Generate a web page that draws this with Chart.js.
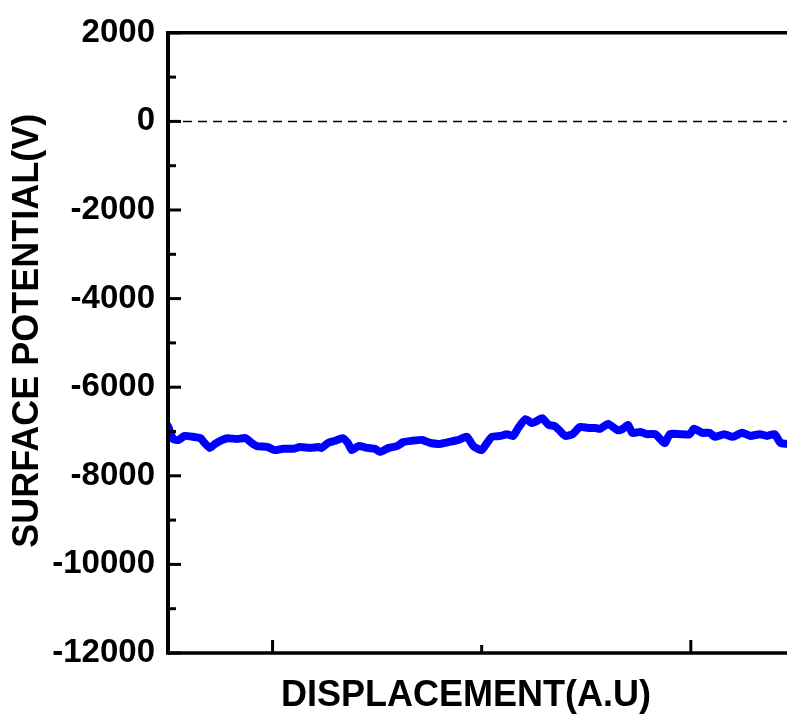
<!DOCTYPE html>
<html>
<head>
<meta charset="utf-8">
<script src="https://cdn.jsdelivr.net/npm/chart.js@4.4.1/dist/chart.umd.min.js"></script>
<style>
  html, body { margin: 0; padding: 0; background: #fff; overflow: hidden; }
  #wrap { width: 787px; height: 717px; }
</style>
</head>
<body>
<div id="wrap"><canvas id="potentialChart" width="787" height="717"></canvas></div>
<script>
// surface potential trace (x in arbitrary units)
const displacement = [
  0.00, 0.05, 0.10, 0.16, 0.24, 0.31, 0.35, 0.40, 0.45, 0.52, 0.57, 0.66, 0.74, 0.80, 0.85, 0.95,
  1.02, 1.10, 1.20, 1.26, 1.36, 1.44, 1.47, 1.53, 1.60, 1.67, 1.72, 1.76, 1.82, 1.91, 1.98,
  2.03, 2.11, 2.19, 2.25, 2.33, 2.43, 2.51, 2.60, 2.68, 2.78, 2.86, 2.92,
  3.00, 3.05, 3.10, 3.18, 3.24, 3.30, 3.35, 3.42, 3.48, 3.53, 3.58, 3.64, 3.70, 3.75, 3.80, 3.87, 3.94,
  4.02, 4.09, 4.13, 4.21, 4.30, 4.35, 4.40, 4.44, 4.52, 4.58, 4.66, 4.75, 4.80, 4.90, 4.99,
  5.03, 5.11, 5.18, 5.23, 5.32, 5.40, 5.49, 5.57, 5.66, 5.73, 5.80, 5.86, 5.92
];
const potential = [
  -6880, -7170, -7190, -7100, -7120, -7150, -7260, -7370, -7280, -7190, -7150, -7170, -7150, -7260, -7330, -7350,
  -7420, -7390, -7390, -7350, -7370, -7350, -7370, -7260, -7210, -7150, -7260, -7420, -7330, -7370, -7390,
  -7460, -7370, -7330, -7240, -7210, -7190, -7260, -7280, -7240, -7190, -7120, -7330,
  -7420, -7260, -7120, -7100, -7060, -7100, -6920, -6720, -6810, -6760, -6700, -6850, -6880, -6990, -7100, -7060, -6900,
  -6920, -6920, -6940, -6830, -6970, -6940, -6850, -7030, -7010, -7060, -7060, -7260, -7060, -7060, -7060,
  -6940, -7030, -7030, -7120, -7060, -7120, -7030, -7100, -7060, -7100, -7060, -7260, -7280
];

const xRange = [0, 5.92];
const yRange = [-12000, 2000];
const xMajorTicks = [1, 5];
const xMinorTicks = [3];
const yMajorTicks = [-12000, -10000, -8000, -6000, -4000, -2000, 0, 2000];
const yMinorTicks = [-11000, -9000, -7000, -5000, -3000, -1000, 1000];
const referenceLevel = 0;
const xTitle = 'DISPLACEMENT(A.U)';
const yTitle = 'SURFACE POTENTIAL(V)';

const FONT = "'Liberation Sans', Arial, sans-serif";

// frame + inward ticks, Origin style
const framePlugin = {
  id: 'frame',
  afterDatasetsDraw(chart) {
    const { ctx, chartArea: a, scales: { x, y } } = chart;
    ctx.save();
    ctx.strokeStyle = '#000';
    ctx.lineCap = 'butt';

    ctx.lineWidth = 3;
    xMajorTicks.concat(xMinorTicks).forEach(v => {
      const px = x.getPixelForValue(v);
      const len = xMajorTicks.includes(v) ? 13 : 8;
      ctx.beginPath();
      ctx.moveTo(px, a.bottom);
      ctx.lineTo(px, a.bottom - len);
      ctx.stroke();
    });
    yMajorTicks.concat(yMinorTicks).forEach(v => {
      const py = y.getPixelForValue(v);
      const len = yMajorTicks.includes(v) ? 13 : 8;
      ctx.beginPath();
      ctx.moveTo(a.left, py);
      ctx.lineTo(a.left + len, py);
      ctx.stroke();
    });

    ctx.lineWidth = 3.5;
    ctx.beginPath();
    ctx.moveTo(a.left, a.top);
    ctx.lineTo(a.right, a.top);
    ctx.moveTo(a.left, a.bottom);
    ctx.lineTo(a.right, a.bottom);
    ctx.stroke();

    ctx.lineWidth = 4;
    ctx.beginPath();
    ctx.moveTo(a.left, a.top - 1.75);
    ctx.lineTo(a.left, a.bottom + 1.75);
    ctx.stroke();

    // axis titles, placed where the original figure has them
    ctx.fillStyle = '#000';
    ctx.font = 'bold 36px ' + FONT;
    ctx.textAlign = 'center';
    ctx.textBaseline = 'middle';
    ctx.fillText(xTitle, a.left + 298, a.bottom + 43);
    ctx.translate(28, a.top + 298);
    ctx.rotate(-Math.PI / 2);
    ctx.fillText(yTitle, 0, 0);
    ctx.restore();
  }
};

function drawChart() {
  const ctx = document.getElementById('potentialChart').getContext('2d');
  new Chart(ctx, {
    type: 'line',
    data: {
      datasets: [
        {
          label: 'Surface potential',
          data: displacement.map((d, i) => ({ x: d, y: potential[i] })),
          borderColor: '#0000ff',
          borderWidth: 8,
          borderCapStyle: 'round',
          borderJoinStyle: 'round',
          pointRadius: 0,
          tension: 0.2,
          fill: false
        },
        {
          label: 'Zero',
          data: xRange.map(v => ({ x: v, y: referenceLevel })),
          borderColor: '#000',
          borderWidth: 1.5,
          borderDash: [9, 6],
          pointRadius: 0,
          fill: false
        }
      ]
    },
    options: {
      responsive: false,
      animation: false,
      layout: { padding: { top: 30, right: 0, bottom: 0, left: 0 } },
      plugins: { legend: { display: false }, tooltip: { enabled: false } },
      scales: {
        x: {
          type: 'linear',
          min: xRange[0],
          max: xRange[1],
          grid: { display: false, drawTicks: false },
          border: { display: false },
          ticks: { display: false },
          afterFit: s => { s.height = 64; }
        },
        y: {
          type: 'linear',
          min: yRange[0],
          max: yRange[1],
          grid: { display: false, drawTicks: false },
          border: { display: false },
          afterBuildTicks: s => { s.ticks = yMajorTicks.map(v => ({ value: v })); },
          ticks: {
            color: '#000',
            padding: 13,
            font: { family: FONT, size: 33, weight: 'bold' },
            callback: v => String(v)
          },
          afterFit: s => { s.width = 168; }
        }
      }
    },
    plugins: [framePlugin]
  });
}

document.addEventListener('DOMContentLoaded', drawChart);
</script>
</body>
</html>
